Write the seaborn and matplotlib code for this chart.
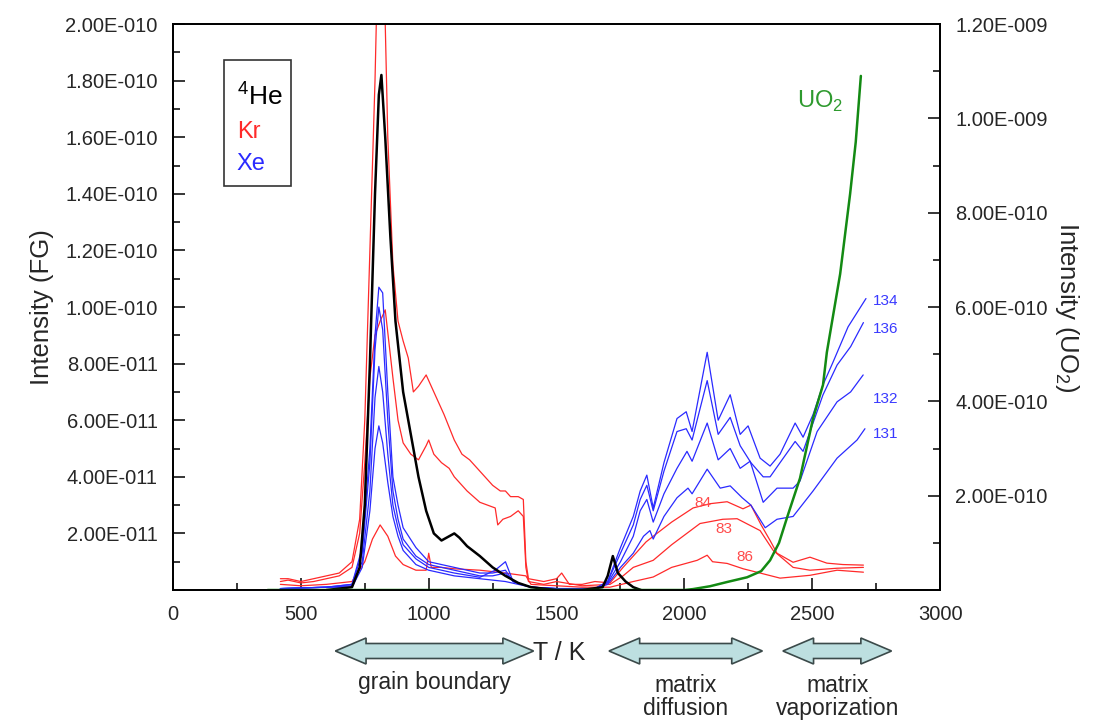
import numpy as np
import pandas as pd
import matplotlib
matplotlib.use("Agg")
import matplotlib.pyplot as plt
import seaborn as sns
from matplotlib.patches import Polygon, Rectangle
from matplotlib.ticker import FuncFormatter, MultipleLocator
from matplotlib.transforms import blended_transform_factory

# Valori (intensita' FG in unita' di 1e-11, UO2 in unita' di 1e-10)
he_T = [600, 700, 730, 750, 770, 790, 805, 815, 830, 850, 870, 900, 930, 960, 990, 1020, 1050,
        1080, 1100, 1120, 1150, 1200, 1250, 1300, 1350, 1400, 1450, 1500, 1600, 1680, 1700,
        1720, 1740, 1770, 1800, 1830]
he_I = [0, 0.1, 0.8, 3, 8, 14, 17.5, 18.2, 16, 12.5, 9.5, 7, 5.5, 4, 2.8, 2, 1.75,
        1.9, 2.0, 1.85, 1.55, 1.2, 0.8, 0.5, 0.25, 0.1, 0.05, 0, 0, 0.1, 0.5,
        1.2, 0.6, 0.3, 0.1, 0]

kr84_T = [420, 450, 500, 550, 600, 650, 700, 730, 750, 770, 790, 800, 815, 830, 840, 860, 880,
          900, 920, 940, 960, 990, 1010, 1040, 1060, 1100, 1130, 1160, 1190, 1220, 1250, 1280,
          1300, 1320, 1350, 1370, 1380, 1390, 1450, 1500, 1520, 1550, 1600, 1650, 1709, 1760,
          1800, 1850, 1878, 1950, 2034, 2100, 2167, 2229, 2260, 2300, 2335, 2362, 2425, 2491,
          2557, 2620, 2700]
kr84_I = [0.4, 0.4, 0.3, 0.4, 0.5, 0.6, 1.0, 2.5, 6, 12, 18, 22, 26, 20, 16, 11.5, 9.5,
          8.8, 8.2, 7.0, 7.2, 7.6, 7.2, 6.6, 6.2, 5.3, 4.8, 4.6, 4.3, 4.0, 3.7, 3.5,
          3.5, 3.3, 3.3, 3.2, 1.0, 0.4, 0.3, 0.4, 0.6, 0.2, 0.2, 0.3, 0.25, 0.8,
          1.2, 1.7, 1.9, 2.4, 2.9, 3.05, 3.12, 2.87, 3.0, 2.3, 1.75, 1.3, 0.98, 1.16,
          0.95, 0.9, 0.88]

kr83_T = [420, 450, 500, 550, 600, 650, 700, 730, 750, 770, 790, 810, 830, 860, 880, 900, 930,
          960, 990, 1000, 1020, 1050, 1080, 1100, 1150, 1200, 1230, 1260, 1270, 1290, 1320,
          1350, 1370, 1380, 1390, 1450, 1500, 1600, 1709, 1760, 1800, 1878, 1950, 2061, 2150,
          2206, 2296, 2347, 2425, 2491, 2597, 2700]
kr83_I = [0.3, 0.35, 0.25, 0.3, 0.4, 0.5, 0.8, 2, 4.5, 7.5, 9, 9.5, 9.9, 7.5, 6.0, 5.2, 4.8,
          4.6, 5.1, 5.3, 4.8, 4.5, 4.3, 4.0, 3.5, 3.1, 3.0, 2.9, 2.3, 2.5, 2.6,
          2.8, 2.6, 0.8, 0.3, 0.2, 0.3, 0.15, 0.2, 0.5, 0.8, 1.05, 1.6, 2.35, 2.5,
          2.52, 2.1, 1.4, 0.8, 0.7, 0.77, 0.8]

kr86_T = [420, 500, 600, 700, 750, 780, 810, 840, 870, 900, 950, 990, 1000, 1010, 1050, 1100,
          1200, 1300, 1380, 1400, 1500, 1600, 1709, 1800, 1878, 1950, 2050, 2089, 2110, 2167,
          2230, 2296, 2374, 2491, 2597, 2700]
kr86_I = [0.2, 0.15, 0.2, 0.3, 1, 1.8, 2.3, 1.9, 1.2, 0.9, 0.7, 0.7, 1.3, 0.8, 0.8, 0.75,
          0.7, 0.6, 0.5, 0.2, 0.15, 0.1, 0.1, 0.3, 0.46, 0.8, 1.05, 1.23, 1.0, 0.94,
          0.75, 0.6, 0.42, 0.52, 0.7, 0.63]

xe134_T = [420, 600, 700, 740, 770, 790, 805, 820, 840, 860, 880, 900, 950, 1000, 1100, 1200,
           1250, 1300, 1330, 1400, 1500, 1650, 1700, 1750, 1800, 1827, 1853, 1878, 1920, 1971,
           2007, 2030, 2089, 2132, 2179, 2218, 2249, 2296, 2335, 2374, 2433, 2464, 2503, 2542,
           2581, 2640, 2710]
xe134_I = [0.05, 0.1, 0.2, 1.5, 5, 9, 10.7, 10.5, 7, 4, 3, 2.2, 1.5, 1.0, 0.8, 0.6,
           0.6, 0.7, 0.3, 0.1, 0.05, 0.05, 0.3, 1.5, 2.6, 3.5, 4.06, 2.9, 4.5, 6.06,
           6.3, 5.6, 8.4, 6.0, 6.9, 5.5, 5.8, 4.66, 4.38, 4.8, 5.9, 5.4, 6.2, 7.25,
           8.05, 9.3, 10.3]

xe136_T = [420, 600, 700, 740, 770, 790, 805, 820, 840, 860, 880, 900, 950, 1000, 1100, 1200,
           1250, 1300, 1330, 1400, 1500, 1650, 1700, 1750, 1800, 1827, 1853, 1878, 1920, 1971,
           2007, 2030, 2089, 2132, 2179, 2218, 2260, 2308, 2335, 2374, 2433, 2464, 2503, 2542,
           2597, 2650, 2700]
xe136_I = [0.05, 0.1, 0.2, 1.3, 4.5, 8.5, 10.0, 9.2, 6, 3.5, 2.5, 1.8, 1.2, 0.9, 0.7, 0.5,
           0.5, 0.6, 0.3, 0.1, 0.05, 0.05, 0.3, 1.3, 2.3, 3.2, 3.7, 2.8, 4.2, 5.6,
           5.7, 5.3, 7.4, 5.5, 6.1, 5.1, 4.5, 4.0, 4.0, 4.5, 5.25, 4.9, 5.9, 6.9,
           7.95, 8.6, 9.45]

xe132_T = [420, 600, 700, 740, 770, 790, 805, 820, 840, 860, 880, 900, 950, 1000, 1100, 1200,
           1260, 1300, 1330, 1400, 1500, 1650, 1700, 1750, 1800, 1827, 1853, 1878, 1920, 1971,
           2010, 2030, 2089, 2132, 2179, 2218, 2257, 2308, 2362, 2425, 2452, 2519, 2597, 2650,
           2699]
xe132_I = [0.05, 0.1, 0.15, 1.0, 3.5, 6.8, 7.9, 7.0, 4.8, 3.0, 2.2, 1.6, 1.1, 0.8, 0.6, 0.45,
           0.7, 1.0, 0.3, 0.1, 0.05, 0.05, 0.25, 1.0, 1.9, 2.8, 3.2, 2.4, 3.4, 4.3,
           4.9, 4.55, 5.9, 4.6, 5.0, 4.3, 4.55, 3.1, 3.6, 3.6, 3.85, 5.6, 6.65, 7.0,
           7.6]

xe131_T = [420, 600, 700, 740, 770, 790, 805, 820, 840, 860, 880, 900, 950, 1000, 1100, 1200,
           1300, 1400, 1500, 1650, 1700, 1750, 1800, 1840, 1865, 1878, 1920, 1971, 2014, 2030,
           2089, 2140, 2179, 2226, 2260, 2316, 2362, 2425, 2503, 2597, 2675, 2706]
xe131_I = [0.05, 0.1, 0.1, 0.8, 2.8, 5.0, 5.8, 5.2, 3.8, 2.6, 1.9, 1.4, 0.9, 0.7, 0.5, 0.4,
           0.3, 0.1, 0.05, 0.05, 0.2, 0.8, 1.3, 1.9, 2.1, 1.8, 2.6, 3.26, 3.6, 3.4,
           4.27, 3.6, 3.68, 3.26, 3.0, 2.2, 2.5, 2.6, 3.5, 4.66, 5.3, 5.7]

uo2_T = [370, 700, 1000, 1500, 2000, 2034, 2100, 2167, 2245, 2300, 2335, 2370, 2401, 2452,
         2503, 2542, 2557, 2609, 2648, 2670, 2690]
uo2_I = [0, 0, 0, 0, 0, 0.02, 0.08, 0.17, 0.27, 0.4, 0.63, 1.0, 1.53, 2.37,
         3.64, 4.35, 5.04, 6.7, 8.4, 9.5, 10.9]

series = [
    ("Kr84", kr84_T, kr84_I, "#ff2a2a", 0.9),
    ("Kr83", kr83_T, kr83_I, "#ff2a2a", 0.9),
    ("Kr86", kr86_T, kr86_I, "#ff2a2a", 0.9),
    ("Xe134", xe134_T, xe134_I, "#2a2aff", 0.9),
    ("Xe136", xe136_T, xe136_I, "#2a2aff", 0.9),
    ("Xe132", xe132_T, xe132_I, "#2a2aff", 0.9),
    ("Xe131", xe131_T, xe131_I, "#2a2aff", 0.9),
    ("He4", he_T, he_I, "black", 1.8),
]

xe_labels = ["134", "136", "132", "131"]
xe_label_y = [10.23, 9.21, 6.76, 5.53]
kr_labels = ["84", "83", "86"]
kr_label_T = [2073, 2155, 2237]
kr_label_y = [3.08, 2.17, 1.16]

regioni = ["grain boundary", "matrix\ndiffusion", "matrix\nvaporization"]
regioni_T = [(635, 1410), (1705, 2305), (2385, 2810)]


def fmt_sci(v, pos):
    if v == 0:
        return ""
    m, e = f"{v:.2E}".split("E")
    return f"{m}E-{abs(int(e)):03d}"


sns.set_style("ticks")
plt.rcParams['font.family'] = ['Liberation Sans', 'DejaVu Sans']
plt.rcParams['mathtext.fontset'] = 'custom'
plt.rcParams['mathtext.rm'] = 'Liberation Sans'

fig = plt.figure(figsize=(10.97, 7.22), dpi=100)
ax = fig.add_axes([0.1577, 0.1828, 0.6993, 0.7839])
ax2 = ax.twinx()

for nome, T, I, col, lw in series:
    sns.lineplot(x=T, y=np.array(I) * 1e-11, ax=ax, color=col, lw=lw,
                 estimator=None, sort=False, legend=False)

sns.lineplot(x=uo2_T, y=np.array(uo2_I) * 1e-10, ax=ax2, color="#138a13", lw=1.8,
             estimator=None, sort=False, legend=False)

ax.set_xlim(0, 3000)
ax.set_ylim(0, 2e-10)
ax2.set_ylim(0, 1.2e-9)

ax.xaxis.set_major_locator(MultipleLocator(500))
ax.xaxis.set_minor_locator(MultipleLocator(250))
ax.yaxis.set_major_locator(MultipleLocator(2e-11))
ax.yaxis.set_minor_locator(MultipleLocator(1e-11))
ax2.yaxis.set_major_locator(MultipleLocator(2e-10))
ax2.yaxis.set_minor_locator(MultipleLocator(1e-10))
ax.yaxis.set_major_formatter(FuncFormatter(fmt_sci))
ax2.yaxis.set_major_formatter(FuncFormatter(fmt_sci))

ax.tick_params(axis="both", which="both", direction="in", labelsize=14.5, width=1.3)
ax.tick_params(axis="both", which="major", length=8.5, pad=11)
ax.tick_params(axis="both", which="minor", length=5)
ax.tick_params(axis="x", which="both", top=False)
ax2.tick_params(axis="y", which="both", direction="in", labelsize=14.5, width=1.3)
ax2.tick_params(axis="y", which="major", length=8.5, pad=11)
ax2.tick_params(axis="y", which="minor", length=5)
for a in (ax, ax2):
    for sp in a.spines.values():
        sp.set_linewidth(1.3)
        sp.set_color("black")
        sp.set_visible(True)

ax.set_ylabel("Intensity (FG)", fontsize=18.5, labelpad=8)
ax2.set_ylabel("Intensity (UO$_2$)", fontsize=18.5, rotation=270, labelpad=24)

# legenda a mano
ax.add_patch(Rectangle((0.0665, 0.713), 0.0874, 0.224, transform=ax.transAxes,
                       fill=False, edgecolor="#333333", lw=1.2, zorder=5))
ax.text(0.083, 0.874, "$^4$He", transform=ax.transAxes, fontsize=19, color="black",
        va="center", ha="left")
ax.text(0.083, 0.809, "Kr", transform=ax.transAxes, fontsize=17, color="#ff2a2a",
        va="center", ha="left")
ax.text(0.083, 0.753, "Xe", transform=ax.transAxes, fontsize=17, color="#2a2aff",
        va="center", ha="left")

# etichette isotopi
for lab, yv in zip(xe_labels, xe_label_y):
    ax.text(2738, yv * 1e-11, lab, fontsize=11, color="#3a3aff", va="center", ha="left")
for lab, tv, yv in zip(kr_labels, kr_label_T, kr_label_y):
    ax.text(tv, yv * 1e-11, lab, fontsize=11, color="#ff4a4a", va="center", ha="center")
ax.text(2531, 1.727e-10, "UO$_2$", fontsize=17, color="#2e9a2e", va="center", ha="center")

# frecce delle regioni
tr = blended_transform_factory(ax.transData, fig.transFigure)
yc = 1 - 651 / 722
body = 7.5 / 722
head = 13 / 722
hl = 120
for lab, (t0, t1) in zip(regioni, regioni_T):
    pts = [(t0, yc), (t0 + hl, yc + head), (t0 + hl, yc + body), (t1 - hl, yc + body),
           (t1 - hl, yc + head), (t1, yc), (t1 - hl, yc - head), (t1 - hl, yc - body),
           (t0 + hl, yc - body), (t0 + hl, yc - head)]
    fig.add_artist(Polygon(pts, closed=True, transform=tr, facecolor="#bddfe0",
                           edgecolor="#3b4a4a", lw=1.2, clip_on=False))
    yt = 1 - 683 / 722 if "\n" not in lab else 1 - 697 / 722
    fig.text((t0 + t1) / 2, yt, lab, transform=tr, fontsize=16.5, ha="center",
             va="center", linespacing=1.0)

fig.text(1510, 1 - 653 / 722, "T / K", transform=tr, fontsize=18,
         ha="center", va="center")

plt.savefig("out.png", dpi=100)
